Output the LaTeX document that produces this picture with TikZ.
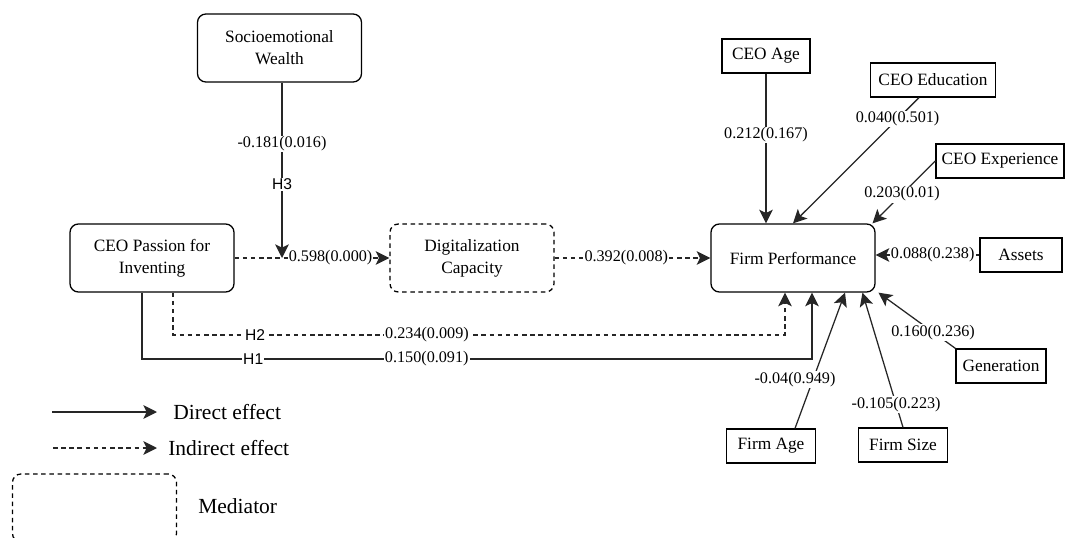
\documentclass[tikz,border=0pt]{standalone}
\usepackage{fontspec}
\setmainfont{Liberation Serif}
\newfontfamily\hypfont{Liberation Sans}
\usetikzlibrary{arrows.meta}

\begin{document}
\begin{tikzpicture}[
  x=0.025cm, y=-0.025cm,
  font=\fontsize{12.3}{15.5}\selectfont,
  construct/.style={draw, line width=0.9pt, rounded corners=6pt, align=center, minimum width=4.1cm, minimum height=1.7cm, fill=white},
  mediator/.style={construct, dash pattern=on 3.2pt off 2.6pt},
  control/.style={draw, line width=0.9pt, align=center, minimum height=0.85cm, fill=white, inner sep=0pt},
  coef/.style={fill=white, inner sep=0.8pt, font=\fontsize{11.5}{13}\selectfont},
  hyp/.style={fill=white, inner sep=0.8pt, font=\hypfont\fontsize{11.1}{13}\selectfont},
  legtext/.style={inner sep=0pt, anchor=west, font=\fontsize{15.3}{18}\selectfont},
  direct/.style={-{Stealth[length=3.4mm, width=3.4mm, inset=0.8mm]}, line width=0.9pt, draw=black!85},
  indirect/.style={direct, dash pattern=on 3.2pt off 2.6pt}
]
\useasboundingbox (0,0) rectangle (1066,538);

% main constructs
\node[construct] (sew) at (279.5,48) {Socioemotional\\Wealth};
\node[construct] (pi) at (152,258) {CEO Passion for\\Inventing};
\node[mediator] (dc) at (472,258) {Digitalization\\Capacity};
\node[construct] (fp) at (793,258) {Firm Performance};

% controls
\node[control, minimum width=2.2cm] (ceoage) at (766,56) {CEO Age};
\node[control, minimum width=3.125cm] (ceoedu) at (933,80) {CEO Education};
\node[control, minimum width=3.2cm] (ceoexp) at (1000,161) {CEO Experience};
\node[control, minimum width=2.05cm] (assets) at (1021,255) {Assets};
\node[control, minimum width=2.25cm] (gen) at (1001,366) {Generation};
\node[control, minimum width=2.225cm] (firmage) at (771,446) {Firm Age};
\node[control, minimum width=2.225cm] (firmsize) at (903,445) {Firm Size};

% moderation and mediation
\coordinate (mod) at (282,258);
\draw[direct] (sew.south -| mod) -- node[coef, pos=0.35] {-0.181(0.016)} node[hyp, pos=0.58] {H3} (mod);
\draw[indirect] (pi) -- node[coef, pos=0.62] {0.598(0.000)} (dc);
\draw[indirect] (dc) -- node[coef, pos=0.46] {0.392(0.008)} (fp);

\coordinate (h2a) at (173,335);
\coordinate (h2b) at (785,335);
\draw[indirect] (pi.south -| h2a) -- (h2a) -- node[hyp, pos=0.134] {H2} node[coef, pos=0.415] {0.234(0.009)} (h2b) -- (h2b |- fp.south);

\coordinate (h1a) at (142,359);
\coordinate (h1b) at (812,359);
\draw[direct] (pi.south -| h1a) -- (h1a) -- node[hyp, pos=0.166] {H1} node[coef, pos=0.425] {0.150(0.091)} (h1b) -- (h1b |- fp.south);

% control paths
\draw[direct] (ceoage.south) -- node[coef, pos=0.41] {0.212(0.167)} (ceoage.south |- fp.north);
\draw[direct] ([xshift=-0.35cm]ceoedu.south) -- node[coef, pos=0.17] {0.040(0.501)} (fp.north);
\draw[direct] (ceoexp.west) -- node[coef, pos=0.53] {0.203(0.01)} ([xshift=-0.08cm]fp.north east);
\draw[direct] (assets.west) -- node[coef, pos=0.45] {0.088(0.238)} (assets.west -| fp.east);
\draw[direct] (gen.north west) -- node[coef, pos=0.29] {0.160(0.236)} ([xshift=0.07cm]fp.south east);
\draw[direct] (firmsize.north) -- node[coef, pos=0.17] {-0.105(0.223)} ([xshift=-0.33cm]fp.south east);
\draw[direct] ([xshift=0.6cm]firmage.north) -- node[coef, pos=0.36, xshift=-0.45cm] {-0.04(0.949)} ([xshift=1.3cm]fp.south);

% legend
\node[legtext] (ldirect) at (173,412) {Direct effect};
\node[legtext] (lindirect) at (168,448) {Indirect effect};
\coordinate (ldirect0) at (52,412);
\coordinate (lindirect0) at (53,448);
\draw[direct] (ldirect0) -- ([xshift=-0.4cm]ldirect.west);
\draw[indirect] (lindirect0) -- ([xshift=-0.275cm]lindirect.west);
\node[mediator] (lmed) at (94.5,508) {};
\node[legtext] (lmedtext) at (198,506) {Mediator};

\end{tikzpicture}
\end{document}
